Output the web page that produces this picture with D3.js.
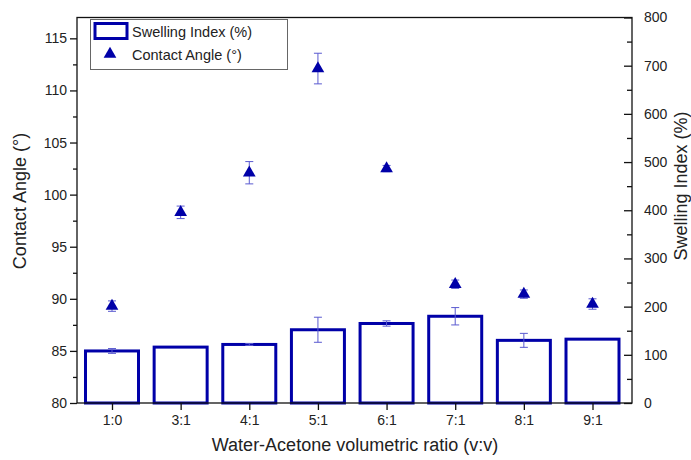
<!DOCTYPE html>
<html><head><meta charset="utf-8">
<script src="https://cdn.jsdelivr.net/npm/d3@7"></script>
<style>body{margin:0;background:#fff}svg{display:block;font-family:"Liberation Sans",Arial,sans-serif}</style>
</head><body><svg id="c" width="691" height="460"></svg>
<script>
const categories = ["1:0","3:1","4:1","5:1","6:1","7:1","8:1","9:1"];
const swelling = [108, 116, 121.5, 152, 165, 180, 130, 132.5];
const swellingErr = [5, 0, 2, 26, 5.5, 18, 14.5, 0];
const contactAngle = [89.3, 98.3, 102.1, 112.1, 102.5, 91.4, 90.45, 89.5];
const contactErr = [0.5, 0.6, 1.07, 1.47, 0.3, 0.4, 0.4, 0.5];
const leftTicks = [80,85,90,95,100,105,110,115];
const rightTicks = [0,100,200,300,400,500,600,700,800];

const svg = d3.select("#c");
const L = 77, R = 632, T = 17.5, B = 403;
const x = d3.scalePoint().domain(categories).range([112, 592.5]);
const yL = d3.scaleLinear().domain([80,117]).range([B,T]);
const yR = d3.scaleLinear().domain([0,800]).range([B,T]);
const blue = "#0000a8", errC = "#5a5ad0";

// bars
const bw = 53;
svg.append("g").selectAll("rect").data(categories).join("rect")
  .attr("x", d => x(d) - bw/2).attr("y", (d,i) => yR(swelling[i]))
  .attr("width", bw).attr("height", (d,i) => B - yR(swelling[i]))
  .attr("fill", "#fff").attr("stroke", blue).attr("stroke-width", 3);

function errBars(vals, errs, scale){
  const g = svg.append("g").attr("stroke", errC).attr("stroke-width", 1).attr("fill","none");
  categories.forEach((c,i) => {
    if (!errs[i]) return;
    const cx = x(c), y1 = scale(vals[i]+errs[i]), y2 = scale(vals[i]-errs[i]);
    g.append("line").attr("x1",cx).attr("x2",cx).attr("y1",y1).attr("y2",y2);
    g.append("line").attr("x1",cx-4).attr("x2",cx+4).attr("y1",y1).attr("y2",y1);
    g.append("line").attr("x1",cx-4).attr("x2",cx+4).attr("y1",y2).attr("y2",y2);
  });
}
errBars(swelling, swellingErr, yR);
errBars(contactAngle, contactErr, yL);

const tri = d3.symbol().type(d3.symbolTriangle).size(70);
svg.append("g").selectAll("path").data(categories).join("path")
  .attr("d", tri).attr("transform", (d,i) => `translate(${x(d)},${yL(contactAngle[i])})`)
  .attr("fill", blue);

// frame
svg.append("rect").attr("x",L).attr("y",T).attr("width",R-L).attr("height",B-T)
  .attr("fill","none").attr("stroke","#111").attr("stroke-width",1.3);

// left axis
const gl = svg.append("g").attr("transform",`translate(${L},0)`)
  .call(d3.axisLeft(yL).tickValues(leftTicks).tickSize(7).tickPadding(3));
svg.append("g").attr("transform",`translate(${L},0)`)
  .call(d3.axisLeft(yL).tickValues(d3.range(82.5,117,5)).tickSize(4).tickFormat(""));
// right axis (inward ticks)
const gr = svg.append("g").attr("transform",`translate(${R},0)`)
  .call(d3.axisRight(yR).tickValues(rightTicks).tickSize(-8).tickPadding(12));
svg.append("g").attr("transform",`translate(${R},0)`)
  .call(d3.axisRight(yR).tickValues(d3.range(50,800,100)).tickSize(-5).tickFormat(""));
// bottom axis
const gb = svg.append("g").attr("transform",`translate(0,${B})`)
  .call(d3.axisBottom(x).tickSize(7).tickPadding(5));
svg.selectAll(".domain").remove();
svg.selectAll(".tick line").attr("stroke","#111").attr("stroke-width",1.3);
svg.selectAll(".tick text").attr("font-size",14).attr("fill","#222")
  .attr("font-family",'"Liberation Sans",Arial,sans-serif');

// axis titles
svg.append("text").attr("transform","translate(26,201) rotate(-90)").attr("text-anchor","middle")
  .attr("font-size",18).attr("fill","#222").text("Contact Angle (°)");
svg.append("text").attr("transform","translate(687,186) rotate(-90)").attr("text-anchor","middle")
  .attr("font-size",18).attr("fill","#222").text("Swelling Index (%)");
svg.append("text").attr("x",355).attr("y",451).attr("text-anchor","middle")
  .attr("font-size",18).attr("fill","#222").text("Water-Acetone volumetric ratio (v:v)");

// legend
const lg = svg.append("g");
lg.append("rect").attr("x",90.5).attr("y",19.5).attr("width",197).attr("height",50)
  .attr("fill","#fff").attr("stroke","#666").attr("stroke-width",1);
lg.append("rect").attr("x",95).attr("y",23.5).attr("width",32).attr("height",15)
  .attr("fill","#fff").attr("stroke",blue).attr("stroke-width",3);
lg.append("path").attr("d",tri).attr("transform","translate(110,54)").attr("fill",blue);
lg.append("text").attr("x",132).attr("y",37).attr("font-size",14.5).attr("fill","#222").text("Swelling Index (%)");
lg.append("text").attr("x",132).attr("y",60).attr("font-size",14.5).attr("fill","#222").text("Contact Angle (°)");
</script></body></html>
